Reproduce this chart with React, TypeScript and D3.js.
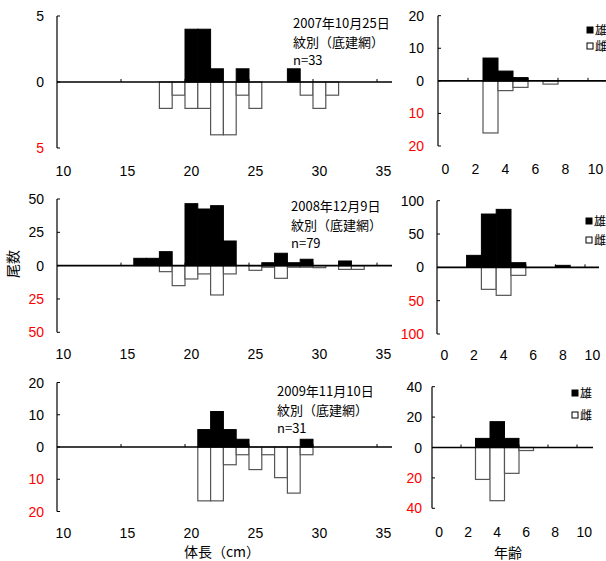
import React from "react";
import * as d3 from "d3";

// ---------- tick labels ----------
const LEN_TICKS = [10, 15, 20, 25, 30, 35];
const AGE_TICKS = [0, 2, 4, 6, 8, 10];

// ---------- 2007-10-25 ----------
const len07MaleBins = [20, 21, 22, 24, 28];
const len07MaleVals = [4, 4, 1, 1, 1];
const len07FemBins = [18, 19, 20, 21, 22, 23, 24, 25, 29, 30, 31];
const len07FemVals = [2, 1, 2, 2, 4, 4, 1, 2, 1, 2, 1];
const len07YTicks = [5, 0, -5];
const age07MaleBins = [3, 4, 5];
const age07MaleVals = [7, 3, 1];
const age07FemBins = [3, 4, 5, 7];
const age07FemVals = [16, 3, 2, 1];
const age07YTicks = [20, 10, 0, -10, -20];
const note07 = ["2007年10月25日", "紋別（底建網）", "n=33"];

// ---------- 2008-12-09 ----------
const len08MaleBins = [16, 17, 18, 20, 21, 22, 23, 26, 27, 28, 29, 32];
const len08MaleVals = [5.5, 5.5, 10.5, 46.5, 42.5, 45, 18.5, 2.2, 9.3, 2.2, 4.8, 3.5];
const len08FemBins = [18, 19, 20, 21, 22, 23, 25, 26, 27, 28, 29, 30, 32, 33];
const len08FemVals = [4.5, 15, 10, 6.2, 22, 6.2, 3.5, 1.2, 9.5, 1.2, 1.2, 1.5, 2.8, 2.8];
const len08YTicks = [50, 25, 0, -25, -50];
const age08MaleBins = [2, 3, 4, 5, 8];
const age08MaleVals = [18, 80, 87, 7, 3];
const age08FemBins = [3, 4, 5];
const age08FemVals = [33, 42, 12];
const age08YTicks = [100, 50, 0, -50, -100];
const note08 = ["2008年12月9日", "紋別（底建網）", "n=79"];

// ---------- 2009-11-10 ----------
const len09MaleBins = [21, 22, 23, 24, 29];
const len09MaleVals = [5.4, 11, 5.4, 2.4, 2.4];
const len09FemBins = [21, 22, 23, 24, 25, 26, 27, 28, 29];
const len09FemVals = [16.7, 16.7, 5.5, 2.4, 7, 2.4, 9.5, 14.3, 2.4];
const len09YTicks = [20, 10, 0, -10, -20];
const age09MaleBins = [3, 4, 5];
const age09MaleVals = [6, 17, 6];
const age09FemBins = [3, 4, 5, 6];
const age09FemVals = [21, 35, 17, 2];
const age09YTicks = [40, 20, 0, -20, -40];
const note09 = ["2009年11月10日", "紋別（底建網）", "n=31"];

const FONT = "'Liberation Sans', Arial, 'Noto Sans CJK JP', sans-serif";
const JFONT = "'Noto Sans CJK JP', 'Liberation Sans', sans-serif";

type PanelProps = {
  xDomain: [number, number];
  xRange: [number, number];
  lineEnd: number;
  yMax: number;
  yRange: [number, number]; // [bottom px, top px]
  yTicks: number[];
  xTicks: number[];
  labelY: number;
  labelRight: number;
  maleBins: number[];
  maleVals: number[];
  femBins: number[];
  femVals: number[];
};

function Panel(p: PanelProps) {
  const xs = d3.scaleLinear().domain(p.xDomain).range(p.xRange);
  const ys = d3.scaleLinear().domain([-p.yMax, p.yMax]).range(p.yRange);
  const y0 = ys(0);
  const ax = xs(p.xDomain[0]);
  return (
    <g>
      {p.femBins.map((b, i) => (
        <rect
          key={"f" + i}
          x={xs(b)}
          y={y0}
          width={xs(b + 1) - xs(b)}
          height={ys(-p.femVals[i]) - y0}
          fill="#fff"
          stroke="#555"
          strokeWidth={1.2}
        />
      ))}
      {p.maleBins.map((b, i) => (
        <rect
          key={"m" + i}
          x={xs(b)}
          y={ys(p.maleVals[i])}
          width={xs(b + 1) - xs(b)}
          height={y0 - ys(p.maleVals[i])}
          fill="#000"
          stroke="#000"
          strokeWidth={1}
        />
      ))}
      {p.xTicks.slice(1).map((t) => (
        <line key={"xt" + t} x1={xs(t)} x2={xs(t)} y1={y0 - 3} y2={y0} stroke="#000" strokeWidth={1} />
      ))}
      <line x1={ax} x2={p.lineEnd} y1={y0} y2={y0} stroke="#000" strokeWidth={1.6} />
      <line x1={ax} x2={ax} y1={ys(p.yMax)} y2={ys(-p.yMax)} stroke="#000" strokeWidth={1.2} />
      {p.yTicks.map((t) => (
        <g key={"yt" + t}>
          <line x1={ax} x2={ax + 3} y1={ys(t)} y2={ys(t)} stroke="#000" strokeWidth={1} />
          <text
            x={p.labelRight}
            y={ys(t)}
            dy="0.36em"
            textAnchor="end"
            fontSize={14}
            fontFamily={FONT}
            fill={t < 0 ? "#ff0000" : "#000"}
          >
            {Math.abs(t)}
          </text>
        </g>
      ))}
      {p.xTicks.map((t) => (
        <text
          key={"xl" + t}
          x={xs(t + 0.5)}
          y={p.labelY}
          textAnchor="middle"
          fontSize={14}
          fontFamily={FONT}
          fill="#000"
        >
          {t}
        </text>
      ))}
    </g>
  );
}

function Note({ x, y, lines }: { x: number; y: number; lines: string[] }) {
  return (
    <g>
      {lines.map((s, i) => (
        <text key={i} x={x} y={y + i * 18.5} fontSize={13} fontFamily={JFONT} fill="#000">
          {s}
        </text>
      ))}
    </g>
  );
}

function Legend({ x, y, gap }: { x: number; y: number; gap: number }) {
  return (
    <g>
      <rect x={x} y={y - 3} width={6} height={6} fill="#000" stroke="#000" strokeWidth={1} />
      <text x={x + 8} y={y} dy="0.38em" fontSize={12} fontFamily={JFONT} fill="#000">雄</text>
      <rect x={x} y={y + gap - 3} width={6} height={6} fill="#fff" stroke="#000" strokeWidth={1} />
      <text x={x + 8} y={y + gap} dy="0.38em" fontSize={12} fontFamily={JFONT} fill="#000">雌</text>
    </g>
  );
}

export default function App() {
  return (
    <svg
      width={606}
      height={561}
      viewBox="0 0 606 561"
      style={{ position: "absolute", left: 0, top: 0, background: "#fff" }}
    >
      <rect width={606} height={561} fill="#fff" />
      {/* row 1 */}
      <Panel
        xDomain={[10, 35]} xRange={[57, 377]} lineEnd={392}
        yMax={5} yRange={[148, 16]} yTicks={len07YTicks}
        xTicks={LEN_TICKS} labelY={176} labelRight={44}
        maleBins={len07MaleBins} maleVals={len07MaleVals}
        femBins={len07FemBins} femVals={len07FemVals}
      />
      <Note x={293} y={28} lines={note07} />
      <Panel
        xDomain={[0, 10]} xRange={[438, 588]} lineEnd={606}
        yMax={20} yRange={[146, 15.7]} yTicks={age07YTicks}
        xTicks={AGE_TICKS} labelY={174} labelRight={424}
        maleBins={age07MaleBins} maleVals={age07MaleVals}
        femBins={age07FemBins} femVals={age07FemVals}
      />
      <Legend x={587} y={30} gap={16} />

      {/* row 2 */}
      <Panel
        xDomain={[10, 35]} xRange={[57, 377]} lineEnd={392}
        yMax={50} yRange={[332.3, 199]} yTicks={len08YTicks}
        xTicks={LEN_TICKS} labelY={359} labelRight={44}
        maleBins={len08MaleBins} maleVals={len08MaleVals}
        femBins={len08FemBins} femVals={len08FemVals}
      />
      <Note x={291} y={211} lines={note08} />
      <Panel
        xDomain={[0, 10]} xRange={[437, 585]} lineEnd={599}
        yMax={100} yRange={[334, 200.7]} yTicks={age08YTicks}
        xTicks={AGE_TICKS} labelY={360} labelRight={424}
        maleBins={age08MaleBins} maleVals={age08MaleVals}
        femBins={age08FemBins} femVals={age08FemVals}
      />
      <Legend x={586} y={221} gap={19} />

      {/* row 3 */}
      <Panel
        xDomain={[10, 35]} xRange={[57, 377]} lineEnd={392}
        yMax={20} yRange={[511.5, 382.5]} yTicks={len09YTicks}
        xTicks={LEN_TICKS} labelY={538} labelRight={44}
        maleBins={len09MaleBins} maleVals={len09MaleVals}
        femBins={len09FemBins} femVals={len09FemVals}
      />
      <Note x={277} y={396} lines={note09} />
      <Panel
        xDomain={[0, 10]} xRange={[432, 577]} lineEnd={593}
        yMax={40} yRange={[508.3, 386.7]} yTicks={age09YTicks}
        xTicks={AGE_TICKS} labelY={537} labelRight={422}
        maleBins={age09MaleBins} maleVals={age09MaleVals}
        femBins={age09FemBins} femVals={age09FemVals}
      />
      <Legend x={572} y={393} gap={22} />

      {/* axis titles */}
      <text x={13} y={264} transform="rotate(-90 13 264)" textAnchor="middle" dy="0.36em"
        fontSize={14} fontFamily={JFONT} fill="#000">尾数</text>
      <text x={222} y={557} textAnchor="middle" fontSize={14} fontFamily={JFONT} fill="#000">体長（cm）</text>
      <text x={508} y={558} textAnchor="middle" fontSize={14} fontFamily={JFONT} fill="#000">年齢</text>
    </svg>
  );
}
